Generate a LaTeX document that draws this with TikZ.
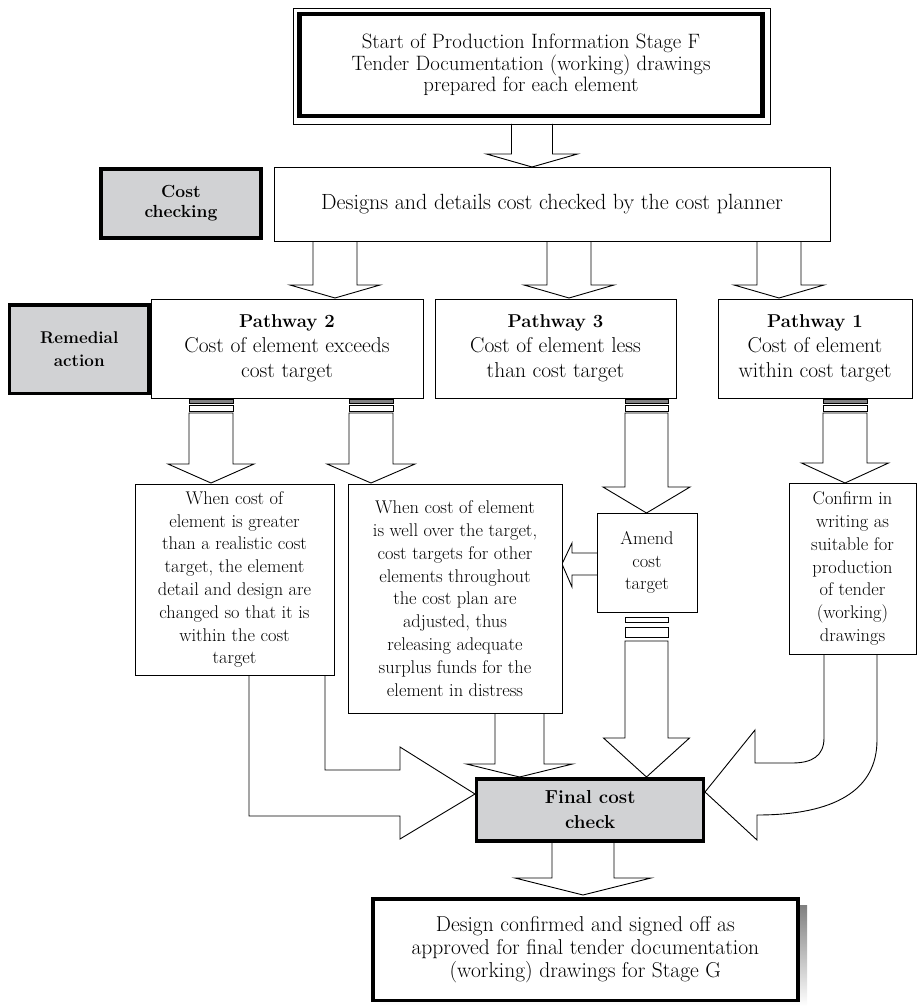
\documentclass[tikz,border=0pt]{standalone}
\usetikzlibrary{calc}
\definecolor{panel}{RGB}{209,210,212}
\definecolor{shade}{RGB}{130,130,132}

% downward block arrow: #1 centre x, #2 top y, #3 head base y, #4 tip y, #5 shaft half width, #6 head half width
\newcommand\blockdown[6]{%
  \draw[blk] (#1-#5,#2) -- (#1-#5,#3) -- (#1-#6,#3) -- (#1,#4) -- (#1+#6,#3) -- (#1+#5,#3) -- (#1+#5,#2);}
% same arrow hung under two rungs (a dark one and a white one)
\newcommand\ladderdown[6]{%
  \draw[rung,fill=shade] (#1-#5,#2) rectangle (#1+#5,#2+4);
  \draw[rung] (#1-#5,#2+6) rectangle (#1+#5,#2+12);
  \draw[blk] (#1-#5,#2+14) -- (#1-#5,#3) -- (#1-#6,#3) -- (#1,#4) -- (#1+#6,#3) -- (#1+#5,#3) -- (#1+#5,#2+14) -- cycle;}

\begin{document}
\begin{tikzpicture}[x=1pt,y=-1pt,line join=miter,
  box/.style={draw=black,line width=0.9pt,fill=white,align=center,inner sep=0pt},
  bigtext/.style={font=\fontsize{21.5}{25}\selectfont},
  smalltext/.style={font=\fontsize{18.4}{22.8}\selectfont},
  tag/.style={draw=black,line width=3.4pt,fill=panel,align=center,inner sep=0pt},
  blk/.style={draw=black,line width=0.9pt,fill=white},
  rung/.style={draw=black,line width=0.7pt,fill=white}]
\useasboundingbox (0,0) rectangle (921,1006);

% ---------- block arrows ----------
\blockdown{532}{124}{154}{167}{20.5}{45.5}
\blockdown{335}{241}{285}{298}{22}{45}
\blockdown{569}{241}{285}{298}{22}{45}
\blockdown{779}{241}{285}{298}{22}{45}

\ladderdown{211}{399}{464}{483}{22}{43}
\ladderdown{371}{399}{464}{483}{22}{44}
\ladderdown{646.5}{399}{487}{513}{21.5}{43.5}
\ladderdown{845}{399}{463}{483}{22}{43.5}

% amend arrow into the surplus-funds box
\draw[blk] (597,553) -- (572,553) -- (572,543) -- (562,564) -- (572,587) -- (572,575) -- (597,575);

% amend arrow down to the final check
\draw[rung] (625,617) rectangle (668,622);
\draw[rung] (625,627) rectangle (668,637);
\draw[blk] (625,641) -- (625,738) -- (603.5,738) -- (646.5,777) -- (689.5,738) -- (668,738) -- (668,641) -- cycle;

% surplus-funds box down to the final check
\blockdown{519.5}{713}{764}{777}{24.5}{53}

% bent arrow from the redesign box
\draw[blk] (249,675) -- (249,816) -- (400,816) -- (400,839) -- (475,794) -- (400,747) -- (400,770) -- (325,770) -- (325,675);

% curved arrow from the confirmation box
\draw[blk] (824,654) -- (824,738) .. controls (824,756) and (812,763) .. (792,763) -- (755,763) -- (755,730)
  -- (705,792) -- (757,840) -- (757,815) .. controls (835,815) and (877,790) .. (877,740) -- (877,654);

% final check down to the sign-off box
\blockdown{583}{842}{878}{895}{31}{68}

% ---------- boxes ----------
\draw[line width=0.9pt] (293.8,8.3) rectangle (770,124);
\node[box,line width=4.3pt,minimum width=463pt,minimum height=102pt,font=\fontsize{20.8}{21.7}\selectfont]
  (start) at (531,65) {Start of Production Information Stage F\\Tender Documentation (working) drawings\\prepared for each element};

\node[tag,minimum width=160pt,minimum height=69pt,font=\bfseries\fontsize{17.5}{20}\selectfont]
  (costchk) at (181,203.5) {Cost\\checking};
\node[box,font=\fontsize{22}{25}\selectfont,minimum width=556pt,minimum height=74pt]
  (designs) at (552,204) {Designs and details cost checked by the cost planner};

\node[box,bigtext,minimum width=272pt,minimum height=99pt]
  (path2) at (287,348.5) {{\bfseries\fontsize{18.6}{25}\selectfont Pathway 2}\\Cost of element exceeds\\cost target};
\node[box,bigtext,minimum width=241pt,minimum height=99pt]
  (path3) at (555.5,348.5) {{\bfseries\fontsize{18.6}{25}\selectfont Pathway 3}\\Cost of element less\\than cost target};
\node[box,bigtext,minimum width=194pt,minimum height=99pt]
  (path1) at (815,348.5) {{\bfseries\fontsize{18.6}{25}\selectfont Pathway 1}\\Cost of element\\within cost target};
\node[tag,minimum width=139.5pt,minimum height=88.7pt,font=\bfseries\fontsize{17}{23}\selectfont]
  (remedial) at (79.25,349.35) {Remedial\\action};

\node[box,smalltext,minimum width=199pt,minimum height=191pt]
  (redesign) at (234.5,579.5) {When cost of\\element is greater\\than a realistic cost\\target, the element\\detail and design are\\changed so that it is\\within the cost\\target};
\node[box,smalltext,minimum width=214pt,minimum height=229pt]
  (surplus) at (455,598.5) {When cost of element\\is well over the target,\\cost targets for other\\elements throughout\\the cost plan are\\adjusted, thus\\releasing adequate\\surplus funds for the\\element in distress};
\node[box,smalltext,minimum width=100pt,minimum height=99pt]
  (amend) at (647,562.5) {Amend\\cost\\target};
\node[box,smalltext,minimum width=127pt,minimum height=171pt]
  (confirm) at (852.5,568.5) {Confirm in\\writing as\\suitable for\\production\\of tender\\(working)\\drawings};

\node[tag,minimum width=227pt,minimum height=62pt,font=\bfseries\fontsize{18.8}{25}\selectfont]
  (final) at (590.2,810) {Final cost\\check};

% sign-off box with its drop shadow
\fill[shade] (380,905) rectangle (807,1006);
\node[box,line width=3.6pt,minimum width=425.3pt,minimum height=101.8pt,font=\fontsize{21.5}{23}\selectfont]
  (signoff) at (585.35,949.6) {Design confirmed and signed off as\\approved for final tender documentation\\(working) drawings for Stage G};
\end{tikzpicture}
\end{document}
